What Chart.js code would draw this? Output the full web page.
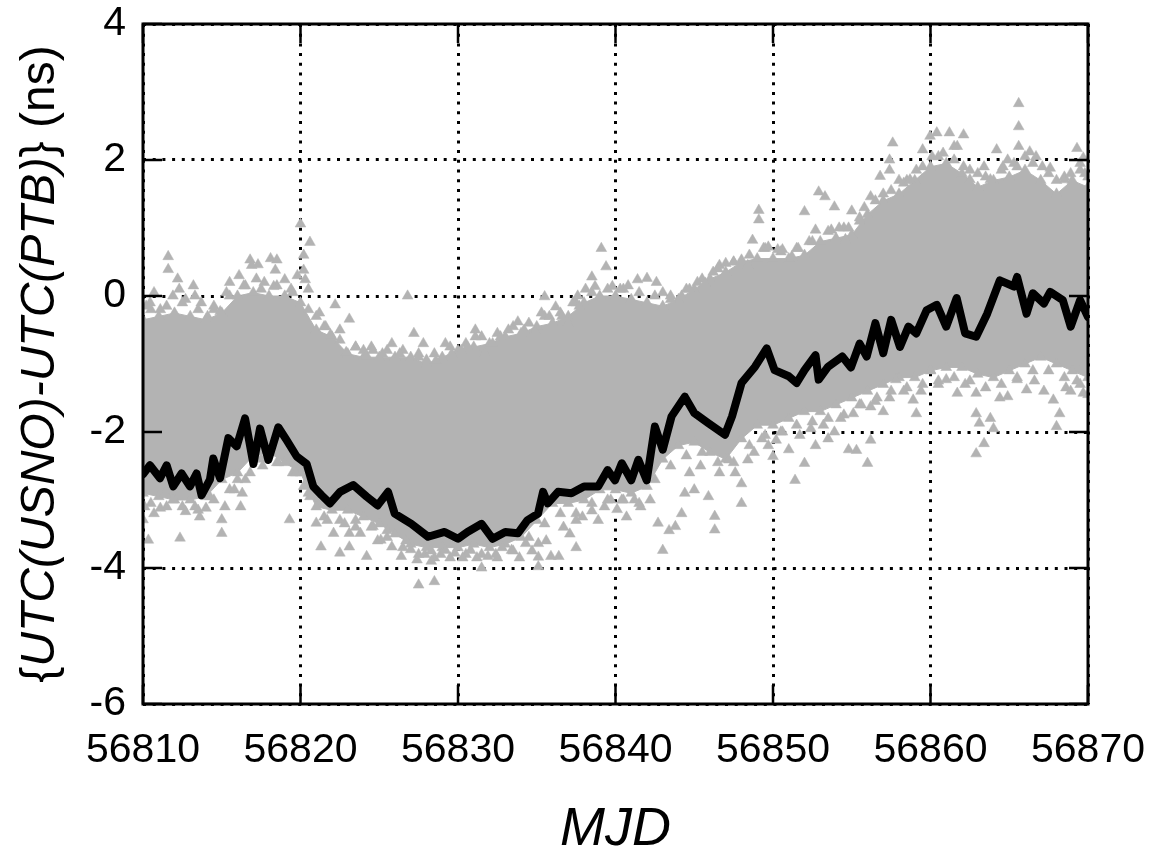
<!DOCTYPE html>
<html>
<head>
<meta charset="utf-8">
<title>UTC(USNO)-UTC(PTB)</title>
<script src="https://cdn.jsdelivr.net/npm/chart.js@4.4.1/dist/chart.umd.min.js"></script>
<style>
  html, body { margin: 0; padding: 0; background: #fff; }
  #wrap { width: 1155px; height: 852px; }
</style>
</head>
<body>
<div id="wrap"><canvas id="offset-chart" width="1155" height="852"></canvas></div>
<script>
// days are counted from MJD0
const MJD0 = 56810;
const xTicks = [56810, 56820, 56830, 56840, 56850, 56860, 56870];
const yTicks = [-6, -4, -2, 0, 2, 4];

// black trace: the link solution
const refDays = [0, 0.44, 1.08, 1.5, 1.92, 2.45, 2.98, 3.4, 3.72, 4.25,
  4.46, 4.89, 5.42, 5.95, 6.48, 7.01, 7.43, 7.96, 8.59, 9.12,
  9.76, 10.39, 10.81, 11.34, 11.87, 12.51, 13.35, 14.2, 14.9, 15.56,
  15.98, 17.04, 18.1, 19.15, 20.0, 20.6, 21.5, 22.2, 23.0, 23.8,
  24.4, 25.08, 25.4, 25.7, 26.35, 27.2, 28.0, 28.9, 29.5, 29.97,
  30.4, 31.0, 31.45, 31.98, 32.5, 33.0, 33.56, 34.4, 35.0, 35.9,
  36.95, 37.4, 38.0, 38.86, 39.6, 40.1, 41.0, 41.5, 42.0, 42.7,
  42.9, 43.5, 44.4, 44.95, 45.5, 45.95, 46.5, 47.0, 47.5, 48.06,
  48.6, 49.1, 49.75, 50.4, 51.0, 51.66, 52.2, 52.9, 53.6, 54.4,
  55.3, 55.5, 56.1, 56.5, 57.2, 57.6, 58.4, 58.9, 59.5, 60.0];
const refNs = [-2.62, -2.49, -2.68, -2.49, -2.8, -2.61, -2.8, -2.61, -2.93, -2.7,
  -2.39, -2.68, -2.09, -2.21, -1.8, -2.47, -1.95, -2.41, -1.93, -2.12,
  -2.36, -2.47, -2.8, -2.93, -3.05, -2.88, -2.78, -2.95, -3.08, -2.88,
  -3.2, -3.35, -3.54, -3.47, -3.57, -3.47, -3.35, -3.57, -3.47, -3.49,
  -3.3, -3.2, -2.88, -3.05, -2.88, -2.9, -2.8, -2.8, -2.56, -2.71,
  -2.46, -2.71, -2.41, -2.71, -1.92, -2.26, -1.77, -1.48, -1.72, -1.87,
  -2.04, -1.77, -1.28, -1.04, -0.77, -1.09, -1.18, -1.28, -1.09, -0.87,
  -1.23, -1.04, -0.89, -1.05, -0.7, -0.89, -0.4, -0.84, -0.35, -0.75,
  -0.45, -0.55, -0.21, -0.13, -0.45, -0.03, -0.55, -0.6, -0.26, 0.23,
  0.14, 0.28, -0.26, 0.04, -0.11, 0.06, -0.06, -0.45, -0.06, -0.31];

// gray common-view points: dense core, one upper and one lower value per day
const cvTopNs = [-0.35, -0.3, -0.25, -0.3, -0.35, -0.25, 0.0, 0.05, 0.0, 0.0,
  -0.1, -0.5, -0.6, -0.85, -0.9, -0.9, -0.9, -0.9, -1.0, -0.9,
  -0.8, -0.75, -0.7, -0.6, -0.55, -0.45, -0.4, -0.3, -0.1, 0.0,
  0.0, -0.05, -0.1, -0.15, -0.05, 0.1, 0.25, 0.35, 0.5, 0.55,
  0.55, 0.55, 0.6, 0.8, 0.85, 0.9, 1.2, 1.4, 1.5, 1.7,
  1.9, 1.95, 1.8, 1.6, 1.7, 1.75, 1.85, 1.7, 1.5, 1.7, 1.6];
const cvBottomNs = [-2.9, -2.95, -3.0, -3.0, -2.95, -2.7, -2.6, -2.35, -2.3, -2.45,
  -2.6, -3.1, -3.15, -3.15, -3.25, -3.35, -3.5, -3.65, -3.7, -3.7,
  -3.7, -3.65, -3.7, -3.65, -3.55, -3.3, -3.05, -3.05, -3.0, -2.85,
  -2.85, -2.9, -2.8, -2.4, -2.2, -2.15, -2.3, -2.4, -2.1, -1.9,
  -1.9, -1.8, -1.7, -1.7, -1.6, -1.5, -1.4, -1.3, -1.2, -1.2,
  -1.1, -1.05, -1.05, -1.15, -1.2, -1.1, -1.0, -0.9, -1.0, -1.1, -1.2];

// ragged edge of the core, one value per day at half-day epochs
const cvTopEdge = [-0.2, -0.15, -0.1, -0.2, -0.2, 0.0, 0.15, 0.1, 0.15, 0.05,
  -0.2, -0.45, -0.65, -0.75, -0.75, -0.8, -0.8, -0.85, -0.85, -0.75,
  -0.7, -0.6, -0.55, -0.45, -0.4, -0.3, -0.25, -0.1, 0.05, 0.1,
  0.1, 0.05, 0.0, -0.05, 0.1, 0.25, 0.4, 0.5, 0.6, 0.7,
  0.65, 0.7, 0.8, 0.95, 1.0, 1.1, 1.4, 1.55, 1.7, 1.9,
  2.05, 2.0, 1.85, 1.75, 1.85, 1.9, 1.95, 1.8, 1.75, 1.85];
const cvBottomEdge = [-3.05, -3.1, -3.1, -3.15, -3.0, -2.85, -2.7, -2.4, -2.45, -2.6,
  -2.9, -3.25, -3.3, -3.3, -3.4, -3.55, -3.7, -3.8, -3.85, -3.85,
  -3.8, -3.8, -3.85, -3.75, -3.55, -3.35, -3.2, -3.2, -3.05, -3.0,
  -3.0, -3.05, -2.7, -2.5, -2.35, -2.3, -2.45, -2.45, -2.2, -2.05,
  -2.0, -1.9, -1.85, -1.8, -1.75, -1.6, -1.55, -1.4, -1.35, -1.3,
  -1.25, -1.2, -1.25, -1.35, -1.3, -1.2, -1.1, -1.1, -1.2, -1.3];

// scattered points above the core, [day, ns]
const cvUpper = [[0.2, -0.15], [0.45, -0.1], [0.7, 0.05], [1.1, -0.2], [1.6, 0.58], [1.6, 0.39], [1.9, 0.0],
  [2.2, 0.25], [2.3, 0.1], [2.7, -0.05], [3.2, 0.15], [3.3, 0.0], [3.7, -0.1], [4.1, -0.3], [4.5, -0.15],
  [4.9, -0.23], [5.3, 0.05], [5.5, 0.2], [6.1, 0.3], [6.4, 0.15], [6.8, 0.53], [6.9, 0.45], [7.2, 0.25],
  [7.3, 0.46], [7.7, 0.2], [8.1, 0.55], [8.3, 0.14], [8.4, 0.38], [8.5, 0.53], [9.0, 0.24], [9.4, 0.1],
  [9.8, 0.3], [10.0, 1.06], [10.2, 0.6], [10.2, 0.38], [10.3, 0.24], [10.6, 0.79], [10.5, 0.1], [11.0, -0.3],
  [11.2, -0.25], [11.6, -0.45], [11.9, -0.57], [12.2, -0.13], [12.5, -0.5], [12.9, -0.83], [13.1, -0.34],
  [13.5, -0.75], [14.0, -0.8], [14.2, -0.88], [14.6, -0.8],
  [15.2, -0.85], [15.8, -0.7], [16.3, -0.85], [16.8, 0.0], [17.2, -0.55], [17.5, -0.9], [17.8, -0.7],
  [18.0, -0.94], [18.6, -0.95], [19.2, -0.7], [19.6, -0.85], [20.2, -0.8], [20.6, -0.75], [21.1, -0.5],
  [21.1, -0.6], [21.7, -0.84], [22.2, -0.7], [22.7, -0.6], [23.2, -0.5], [23.8, -0.38], [24.2, -0.5],
  [24.9, -0.52], [25.3, -0.25], [25.5, -0.01], [25.8, -0.3], [26.2, -0.16], [26.6, -0.3], [27.0, -0.4],
  [27.3, -0.1], [27.6, 0.0], [27.7, -0.15], [28.1, 0.1], [28.5, 0.28], [28.7, 0.14], [29.1, 0.7],
  [29.4, 0.43], [29.8, 0.14],
  [30.3, 0.1], [30.8, 0.15], [31.4, 0.24], [32.0, 0.26], [32.6, 0.2], [33.0, 0.05], [33.5, 0.0],
  [34.2, 0.0], [34.7, 0.1], [35.2, 0.2], [35.7, 0.19], [36.2, 0.35], [36.6, 0.45], [37.0, 0.48],
  [37.5, 0.5], [38.0, 0.53], [38.4, 0.45], [38.7, 0.82], [39.1, 1.26], [39.1, 1.12], [39.4, 0.7],
  [39.7, 0.72], [40.3, 0.68], [40.6, 0.68], [41.2, 0.58], [41.6, 0.7], [42.0, 1.24], [42.3, 0.8],
  [42.7, 0.97], [42.9, 1.53], [43.3, 1.46], [43.7, 0.97], [43.9, 1.31], [44.2, 1.0], [44.6, 0.83], [44.8, 1.0],
  [45.0, 1.25], [45.5, 1.15], [45.8, 1.3], [46.2, 1.46], [46.8, 1.76], [47.0, 1.5], [47.4, 2.0], [47.4, 1.85],
  [47.6, 2.25], [48.0, 1.7], [48.3, 1.66], [48.7, 1.71], [49.1, 1.85], [49.5, 2.15], [49.97, 2.35],
  [50.1, 2.05], [50.4, 2.4], [50.8, 2.1], [51.2, 2.4], [51.5, 2.2], [51.7, 2.2], [52.1, 2.37], [52.1, 1.9],
  [52.5, 1.71], [53.0, 1.8], [53.4, 1.9], [53.8, 1.71], [54.2, 2.15], [54.6, 1.9], [54.9, 2.0], [55.3, 1.95],
  [55.6, 2.83], [55.6, 2.49], [55.6, 2.2], [56.0, 2.05], [56.3, 2.12], [56.7, 2.05], [57.1, 1.9],
  [57.6, 1.88], [58.0, 1.7], [58.5, 1.71], [58.9, 1.8], [59.3, 2.17], [59.5, 1.95], [59.7, 2.03],
  [59.8, 1.8], [60.0, 1.75]];

// scattered points below the core, [day, ns]
const cvLower = [[0.0, -3.29], [0.1, -3.1], [0.34, -3.59], [0.7, -3.2], [1.1, -3.12], [1.4, -2.9], [1.9, -3.0],
  [2.35, -3.56], [2.7, -3.17], [3.3, -3.1], [3.6, -3.25], [4.0, -3.12], [4.25, -2.95], [5.0, -3.29],
  [5.0, -3.49], [5.2, -3.1], [5.8, -2.85], [6.0, -2.7], [6.2, -3.1], [6.3, -2.9], [6.8, -2.6], [7.6, -2.5],
  [8.6, -2.45], [9.3, -3.29], [9.7, -2.6], [10.2, -2.8], [10.6, -2.95], [11.0, -3.34], [11.3, -3.69],
  [11.7, -3.3], [12.1, -3.49], [12.5, -3.78], [12.8, -3.35], [13.1, -3.49], [13.1, -3.69], [13.5, -3.4],
  [13.8, -3.49], [14.2, -3.83], [14.6, -3.39], [14.9, -3.6],
  [15.1, -3.59], [15.5, -3.45], [15.8, -3.69], [16.4, -3.83], [16.7, -3.6], [17.0, -3.73], [17.4, -3.88],
  [17.5, -4.25], [17.9, -3.8], [18.3, -3.75], [18.3, -3.9], [18.5, -4.2], [18.9, -3.8], [19.2, -3.74],
  [19.8, -3.78], [20.3, -3.85], [20.8, -3.74], [21.2, -3.85], [21.5, -4.0], [21.9, -3.83], [22.4, -3.8],
  [22.8, -3.7], [23.4, -3.74], [23.9, -3.85], [24.3, -3.64], [24.7, -3.75], [25.1, -3.64], [25.1, -3.84],
  [25.1, -3.98], [25.6, -3.6], [25.9, -3.83], [26.4, -3.83], [26.7, -3.4], [27.1, -3.5], [27.5, -3.3],
  [27.5, -3.7], [27.9, -3.25], [28.5, -3.16], [28.9, -3.3], [29.3, -3.1], [29.7, -3.0],
  [30.1, -3.14], [30.4, -3.0], [30.7, -3.25], [31.2, -3.0], [31.6, -3.1], [32.2, -3.0], [32.7, -3.34],
  [33.0, -3.74], [33.4, -3.45], [33.8, -3.39], [34.2, -3.2], [34.4, -2.9], [34.7, -2.6], [35.0, -2.85],
  [35.4, -2.5], [35.9, -2.95], [36.3, -3.24], [36.3, -3.44], [36.6, -2.6], [37.2, -2.41], [37.6, -2.6],
  [38.0, -3.05], [38.0, -2.76], [38.4, -2.41], [38.8, -2.3], [39.3, -2.1], [39.7, -2.2], [40.0, -2.36],
  [40.2, -2.12], [40.6, -2.0], [41.0, -2.26], [41.4, -2.71], [41.7, -2.05], [42.0, -2.46], [42.4, -1.95],
  [42.7, -2.2], [43.2, -1.9], [43.5, -2.1], [43.9, -2.0], [44.3, -1.8], [44.8, -2.26],
  [45.1, -1.73], [45.3, -2.27], [45.6, -1.6], [46.0, -2.46], [46.2, -2.12], [46.2, -1.63], [46.6, -1.5],
  [47.0, -1.7], [47.4, -1.5], [47.8, -1.23], [48.3, -1.4], [48.9, -1.53], [49.1, -1.73], [49.4, -1.4],
  [50.0, -1.09], [50.5, -1.3], [51.0, -1.23], [51.7, -1.43], [52.2, -1.3], [52.9, -1.43], [52.9, -1.73],
  [52.9, -2.32], [53.1, -1.87], [53.4, -2.17], [53.8, -1.8], [54.0, -1.95], [54.4, -1.5], [54.9, -1.48],
  [55.5, -1.23], [56.1, -1.38], [56.6, -1.25], [57.2, -1.4], [57.8, -1.53], [58.0, -1.92], [58.2, -1.73],
  [58.6, -1.35], [58.9, -1.4], [59.3, -1.25], [59.7, -1.43], [59.8, -0.98], [60.0, -1.45]];

const GRAY = '#b3b3b3';
const FONT = '"Liberation Sans", Arial, Helvetica, sans-serif';

function toPoints(days, values) {
    return days.map((d, i) => ({ x: MJD0 + d, y: values[i] }));
}

function pairsToPoints(pairs) {
    return pairs.map(p => ({ x: MJD0 + p[0], y: p[1] }));
}

const bandDays = cvTopNs.map((v, i) => i);
const edgeDays = cvTopEdge.map((v, i) => i + 0.5);

const triangle = {
    pointStyle: 'triangle',
    pointRadius: 6.2,
    pointBackgroundColor: GRAY,
    pointBorderColor: GRAY,
    pointBorderWidth: 0.5
};

// frame, inward tick marks and axis titles, drawn the gnuplot way
const framePlugin = {
    id: 'frame',
    afterDraw(chart) {
        const { ctx, chartArea: a, scales: { x, y } } = chart;
        ctx.save();
        ctx.strokeStyle = '#000';
        ctx.lineWidth = 2.5;
        ctx.beginPath();
        xTicks.forEach(v => {
            const px = x.getPixelForValue(v);
            ctx.moveTo(px, a.bottom); ctx.lineTo(px, a.bottom - 19);
            ctx.moveTo(px, a.top); ctx.lineTo(px, a.top + 19);
        });
        yTicks.forEach(v => {
            const py = y.getPixelForValue(v);
            ctx.moveTo(a.left, py); ctx.lineTo(a.left + 19, py);
            ctx.moveTo(a.right, py); ctx.lineTo(a.right - 19, py);
        });
        ctx.stroke();
        ctx.lineWidth = 3;
        ctx.strokeRect(a.left, a.top, a.right - a.left, a.bottom - a.top);

        ctx.fillStyle = '#000';
        ctx.textBaseline = 'alphabetic';

        // x title
        ctx.font = 'italic 54px ' + FONT;
        ctx.textAlign = 'center';
        ctx.fillText('MJD', (a.left + a.right) / 2, 845);

        // y title, mixed upright and italic pieces
        const parts = [
            ['{', 'normal'],
            ['UTC(USNO)-UTC(PTB)', 'italic'],
            ['} (ns)', 'normal']
        ];
        const size = 48;
        let total = 0;
        parts.forEach(p => {
            ctx.font = p[1] + ' ' + size + 'px ' + FONT;
            total += ctx.measureText(p[0]).width;
        });
        ctx.translate(54, (a.top + a.bottom) / 2);
        ctx.rotate(-Math.PI / 2);
        ctx.textAlign = 'left';
        let cx = -total / 2;
        parts.forEach(p => {
            ctx.font = p[1] + ' ' + size + 'px ' + FONT;
            ctx.fillText(p[0], cx, 0);
            cx += ctx.measureText(p[0]).width;
        });
        ctx.restore();
    }
};

const ctx = document.getElementById('offset-chart');
new Chart(ctx, {
    type: 'line',
    data: {
        datasets: [
            {
                label: 'link',
                data: toPoints(refDays, refNs),
                borderColor: '#000',
                borderWidth: 8,
                borderJoinStyle: 'round',
                borderCapStyle: 'round',
                pointRadius: 0,
                tension: 0,
                fill: false
            },
            Object.assign({ label: 'cv upper', data: pairsToPoints(cvUpper), showLine: false, fill: false }, triangle),
            Object.assign({ label: 'cv lower', data: pairsToPoints(cvLower), showLine: false, fill: false }, triangle),
            Object.assign({ label: 'cv top edge', data: toPoints(edgeDays, cvTopEdge), showLine: false, fill: false }, triangle),
            Object.assign({ label: 'cv bottom edge', data: toPoints(edgeDays, cvBottomEdge), showLine: false, fill: false }, triangle),
            Object.assign({
                label: 'cv top',
                data: toPoints(bandDays, cvTopNs),
                borderColor: GRAY,
                borderWidth: 1,
                tension: 0,
                fill: false
            }, triangle),
            Object.assign({
                label: 'cv bottom',
                data: toPoints(bandDays, cvBottomNs),
                borderColor: GRAY,
                borderWidth: 1,
                backgroundColor: GRAY,
                tension: 0,
                fill: '-1'
            }, triangle)
        ]
    },
    options: {
        responsive: false,
        animation: false,
        devicePixelRatio: 1,
        events: [],
        layout: { padding: { top: 24, right: 67, left: 0, bottom: 0 } },
        plugins: {
            legend: { display: false },
            tooltip: { enabled: false }
        },
        scales: {
            x: {
                type: 'linear',
                min: 56810,
                max: 56870,
                afterBuildTicks: s => { s.ticks = xTicks.map(v => ({ value: v })); },
                afterFit: s => {
                    s.height = 148;
                    s.paddingLeft = 0;
                    s.paddingRight = 0;
                },
                ticks: {
                    font: { family: FONT, size: 41 },
                    color: '#000',
                    padding: 22,
                    maxRotation: 0,
                    autoSkip: false,
                    callback: v => String(v)
                },
                grid: { color: '#000', lineWidth: 3, drawTicks: false },
                border: { display: false, dash: [3, 6.7] }
            },
            y: {
                type: 'linear',
                min: -6,
                max: 4,
                afterBuildTicks: s => { s.ticks = yTicks.map(v => ({ value: v })); },
                afterFit: s => {
                    s.width = 143;
                    s.paddingTop = 0;
                    s.paddingBottom = 0;
                },
                ticks: {
                    font: { family: FONT, size: 41 },
                    color: '#000',
                    padding: 17,
                    autoSkip: false,
                    callback: v => String(v)
                },
                grid: { color: '#000', lineWidth: 3, drawTicks: false },
                border: { display: false, dash: [3, 6.7] }
            }
        }
    },
    plugins: [framePlugin]
});
</script>
</body>
</html>
